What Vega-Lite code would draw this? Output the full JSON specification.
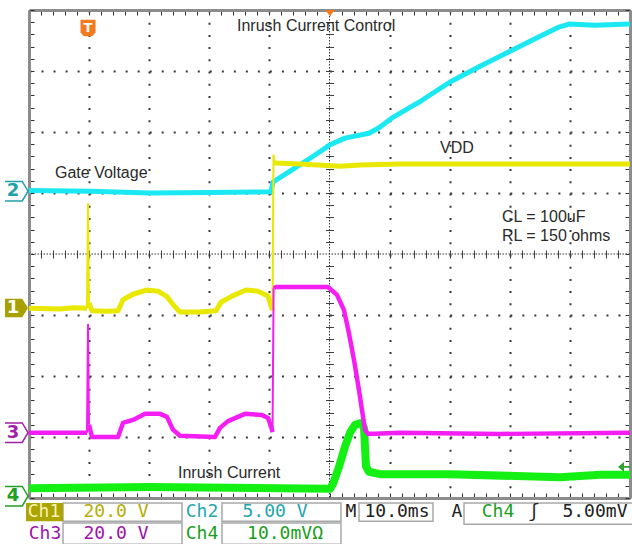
{
  "$schema": "https://vega.github.io/schema/vega-lite/v6.json",
  "width": 601,
  "height": 488,
  "autosize": "none",
  "padding": {"left": 29, "top": 10, "right": 2, "bottom": 46},
  "background": "white",
  "config": {"view": {"stroke": null}},
  "datasets": {
    "ch1": [{"s":"a","x":-50,"y":-0.89},{"s":"a","x":-45,"y":-0.9},{"s":"a","x":-42.5,"y":-0.88},{"s":"a","x":-40.35,"y":-0.89},{"s":"b","x":-40.02,"y":-0.8},{"s":"b","x":-39.52,"y":-0.93},{"s":"b","x":-37,"y":-0.94},{"s":"b","x":-35.19,"y":-0.93},{"s":"b","x":-34.36,"y":-0.75},{"s":"b","x":-32.7,"y":-0.66},{"s":"b","x":-30.37,"y":-0.59},{"s":"b","x":-28.54,"y":-0.61},{"s":"b","x":-27.04,"y":-0.7},{"s":"b","x":-25.87,"y":-0.85},{"s":"b","x":-24.88,"y":-0.95},{"s":"b","x":-21.55,"y":-0.95},{"s":"b","x":-18.89,"y":-0.93},{"s":"b","x":-18.05,"y":-0.79},{"s":"b","x":-16.22,"y":-0.69},{"s":"b","x":-13.89,"y":-0.59},{"s":"b","x":-11.9,"y":-0.61},{"s":"b","x":-10.23,"y":-0.69},{"s":"b","x":-9.73,"y":-0.85},{"s":"b","x":-9.48,"y":-0.92},{"s":"c","x":-9.15,"y":1.5},{"s":"c","x":-8.9,"y":1.49},{"s":"c","x":-4.91,"y":1.475},{"s":"c","x":1.75,"y":1.44},{"s":"c","x":5.07,"y":1.46},{"s":"c","x":11.73,"y":1.475},{"s":"c","x":28.37,"y":1.475},{"s":"c","x":50,"y":1.475}],
    "ch1edges": [{"s":"p","x":-40.35,"y":-0.89},{"s":"p","x":-40.18,"y":0.82},{"s":"p","x":-40.02,"y":-0.8},{"s":"q","x":-9.48,"y":-0.92},{"s":"q","x":-9.32,"y":1.62},{"s":"q","x":-9.15,"y":1.5}],
    "ch2": [{"x":-50,"y":1.04},{"x":-39.85,"y":1.03},{"x":-29.87,"y":1.0},{"x":-19.88,"y":1.01},{"x":-9.73,"y":1.02},{"x":-9.4,"y":1.18},{"x":-6.57,"y":1.36},{"x":-2.91,"y":1.59},{"x":0.08,"y":1.79},{"x":2.58,"y":1.9},{"x":6.57,"y":1.98},{"x":8.24,"y":2.07},{"x":10.4,"y":2.23},{"x":15.39,"y":2.52},{"x":20.05,"y":2.82},{"x":24.88,"y":3.07},{"x":30.37,"y":3.34},{"x":34.86,"y":3.56},{"x":38.19,"y":3.72},{"x":39.85,"y":3.77},{"x":44.18,"y":3.75},{"x":50,"y":3.77}],
    "ch3": [{"s":"a","x":-50,"y":-2.93},{"s":"a","x":-40.35,"y":-2.93},{"s":"b","x":-40.02,"y":-2.8},{"s":"b","x":-39.52,"y":-3.0},{"s":"b","x":-35.19,"y":-3.0},{"s":"b","x":-34.36,"y":-2.77},{"s":"b","x":-32.7,"y":-2.72},{"s":"b","x":-30.7,"y":-2.62},{"s":"b","x":-28.2,"y":-2.62},{"s":"b","x":-27.04,"y":-2.67},{"s":"b","x":-26.04,"y":-2.88},{"s":"b","x":-24.88,"y":-2.98},{"s":"b","x":-19.05,"y":-3.0},{"s":"b","x":-18.22,"y":-2.85},{"s":"b","x":-16.89,"y":-2.74},{"s":"b","x":-14.06,"y":-2.62},{"s":"b","x":-11.23,"y":-2.64},{"s":"b","x":-10.23,"y":-2.69},{"s":"b","x":-9.73,"y":-2.82},{"s":"b","x":-9.48,"y":-2.92},{"s":"c","x":-9.2,"y":-0.56},{"s":"c","x":-8.9,"y":-0.54},{"s":"c","x":-4.91,"y":-0.54},{"s":"c","x":-0.25,"y":-0.54},{"s":"c","x":1.25,"y":-0.67},{"s":"c","x":2.41,"y":-0.92},{"s":"c","x":3.24,"y":-1.3},{"s":"c","x":4.08,"y":-1.74},{"s":"c","x":4.91,"y":-2.23},{"s":"c","x":5.41,"y":-2.56},{"s":"c","x":5.91,"y":-2.88},{"s":"c","x":6.41,"y":-2.95},{"s":"c","x":11.73,"y":-2.93},{"s":"c","x":28.37,"y":-2.95},{"s":"c","x":50,"y":-2.93}],
    "ch3edges": [{"s":"p","x":-40.35,"y":-2.93},{"s":"p","x":-40.18,"y":-1.16},{"s":"p","x":-40.02,"y":-2.8},{"s":"q","x":-9.48,"y":-2.92},{"s":"q","x":-9.3,"y":-0.56},{"s":"q","x":-9.2,"y":-0.56}],
    "ch4": [{"x":-50,"y":-3.84},{"x":-29.87,"y":-3.82},{"x":0.08,"y":-3.85},{"x":0.58,"y":-3.77},{"x":1.58,"y":-3.49},{"x":2.58,"y":-3.16},{"x":3.41,"y":-2.93},{"x":4.24,"y":-2.8},{"x":5.24,"y":-2.77},{"x":5.74,"y":-2.85},{"x":6.07,"y":-3.48},{"x":6.57,"y":-3.57},{"x":8.4,"y":-3.61},{"x":20.05,"y":-3.61},{"x":38.35,"y":-3.66},{"x":45.01,"y":-3.62},{"x":50,"y":-3.62}],
    "labels": [{"t":"Inrush Current Control","x":-15.39,"y":3.74},{"t":"Gate Voltage","x":-45.67,"y":1.33},{"t":"VDD","x":18.39,"y":1.74},{"t":"CL = 100uF","x":28.7,"y":0.61},{"t":"RL = 150 ohms","x":28.7,"y":0.3},{"t":"Inrush Current","x":-25.21,"y":-3.59}],
    "status": [{"t":"Ch1","x":-47.5,"y":-4.23,"k":"inv"},{"t":"20.0 V","x":-35.52,"y":-4.23,"k":"ch1"},{"t":"Ch2","x":-21.21,"y":-4.23,"k":"ch2"},{"t":"5.00 V","x":-9.07,"y":-4.23,"k":"ch2"},{"t":"M","x":3.58,"y":-4.23,"k":"blk"},{"t":"10.0ms","x":11.23,"y":-4.23,"k":"blk"},{"t":"A","x":21.21,"y":-4.23,"k":"blk"},{"t":"Ch4","x":28.04,"y":-4.23,"k":"ch4"},{"t":"ʃ","x":34.03,"y":-4.23,"k":"blk"},{"t":"5.00mV","x":44.17,"y":-4.23,"k":"blk"},{"t":"Ch3","x":-47.34,"y":-4.59,"k":"ch3"},{"t":"20.0 V","x":-35.52,"y":-4.59,"k":"ch3"},{"t":"Ch4","x":-21.21,"y":-4.59,"k":"ch4"},{"t":"10.0mVΩ","x":-7.4,"y":-4.59,"k":"ch4"}],
    "boxes": [{"x":-44.34,"x2":-24.54,"y":-4.08,"y2":-4.38},{"x":-17.89,"x2":1.91,"y":-4.08,"y2":-4.38},{"x":4.91,"x2":17.22,"y":-4.08,"y2":-4.38},{"x":22.38,"x2":50.5,"y":-4.08,"y2":-4.43},{"x":-44.34,"x2":-24.54,"y":-4.41,"y2":-4.76},{"x":-17.89,"x2":1.91,"y":-4.41,"y2":-4.76}],
    "olivebox": [{"x":-50.5,"x2":-44.34,"y":-4.08,"y2":-4.38}],
    "markers": [{"x":-52.08,"y":1.03,"k":"ch2"},{"x":-52.08,"y":-2.93,"k":"ch3"},{"x":-52.08,"y":-3.97,"k":"ch4"}],
    "marker1": [{"x":-52.08,"y":-0.885}],
    "digits": [{"t":"2","x":-52.66,"y":1.03,"k":"ch2"},{"t":"1","x":-52.66,"y":-0.885,"k":"inv1"},{"t":"3","x":-52.66,"y":-2.93,"k":"ch3"},{"t":"4","x":-52.66,"y":-3.97,"k":"ch4"}],
    "trig": [{"x":-40.18,"y":3.705,"t":"T"}],
    "toptri": [{"x":0.08,"y":3.951}],
    "level": [{"x":49.0,"y":-3.49}]
  },
  "layer": [
    {
      "data": {"values": [{}]},
      "mark": {"type": "rule", "color": "#303030", "strokeWidth": 1, "strokeDash": [1.5, 1.5]},
      "encoding": {"x": {"datum": 0, "type": "quantitative", "scale": {"domain": [-50, 50], "nice": false, "zero": false}, "axis": null}}
    },
    {
      "data": {"values": [{}]},
      "mark": {"type": "rule", "color": "#303030", "strokeWidth": 1, "strokeDash": [1.5, 1.5]},
      "encoding": {"y": {"datum": 0, "type": "quantitative", "scale": {"domain": [-4, 4], "nice": false, "zero": false}, "axis": null}}
    },
    {
      "data": {"name": "ch2"},
      "mark": {"type": "line", "color": "#1ae8f2", "strokeWidth": 5, "strokeJoin": "round"},
      "encoding": {
        "x": {"field": "x", "type": "quantitative", "scale": {"domain": [-50, 50], "nice": false, "zero": false},
          "axis": {"orient": "bottom", "values": [-40,-30,-20,-10,10,20,30,40], "grid": true, "gridDash": [2, 10.2], "gridColor": "#383838", "gridWidth": 2, "domain": false, "ticks": false, "labels": false, "title": null}},
        "y": {"field": "y", "type": "quantitative", "scale": {"domain": [-4, 4], "nice": false, "zero": false},
          "axis": {"orient": "left", "values": [-3,-2,-1,1,2,3], "grid": true, "gridDash": [2, 10.02], "gridColor": "#383838", "gridWidth": 2, "domain": false, "ticks": false, "labels": false, "title": null}}
      }
    },
    {
      "data": {"name": "ch1"},
      "mark": {"type": "line", "color": "#e8e800", "strokeWidth": 5, "strokeJoin": "round"},
      "encoding": {
        "x": {"field": "x", "type": "quantitative", "scale": {"domain": [-50, 50], "nice": false, "zero": false},
          "axis": {"orient": "bottom", "offset": -240, "values": [-48,-46,-44,-42,-40,-38,-36,-34,-32,-30,-28,-26,-24,-22,-20,-18,-16,-14,-12,-10,-8,-6,-4,-2,2,4,6,8,10,12,14,16,18,20,22,24,26,28,30,32,34,36,38,40,42,44,46,48], "grid": false, "domain": false, "ticks": true, "tickSize": -8, "tickColor": "#404040", "tickWidth": 1, "labels": false, "title": null}},
        "y": {"field": "y", "type": "quantitative", "scale": {"domain": [-4, 4], "nice": false, "zero": false},
          "axis": {"orient": "left", "offset": -296.5, "values": [-3.8,-3.6,-3.4,-3.2,-3,-2.8,-2.6,-2.4,-2.2,-2,-1.8,-1.6,-1.4,-1.2,-1,-0.8,-0.6,-0.4,-0.2,0.2,0.4,0.6,0.8,1,1.2,1.4,1.6,1.8,2,2.2,2.4,2.6,2.8,3,3.2,3.4,3.6,3.8], "grid": false, "domain": false, "ticks": true, "tickSize": -8, "tickColor": "#404040", "tickWidth": 1, "labels": false, "title": null}},
        "detail": {"field": "s"}
      }
    },
    {
      "data": {"name": "ch1edges"},
      "mark": {"type": "line", "color": "#e8e800", "strokeWidth": 2, "strokeJoin": "round"},
      "encoding": {
        "x": {"field": "x", "type": "quantitative", "axis": null},
        "y": {"field": "y", "type": "quantitative", "axis": null},
        "detail": {"field": "s"}
      }
    },
    {
      "data": {"name": "ch4"},
      "mark": {"type": "line", "color": "#14f014", "strokeWidth": 8, "strokeJoin": "round"},
      "encoding": {
        "x": {"field": "x", "type": "quantitative", "scale": {"domain": [-50, 50], "nice": false, "zero": false},
          "axis": {"orient": "top", "values": [-50,-48,-46,-44,-42,-40,-38,-36,-34,-32,-30,-28,-26,-24,-22,-20,-18,-16,-14,-12,-10,-8,-6,-4,-2,0,2,4,6,8,10,12,14,16,18,20,22,24,26,28,30,32,34,36,38,40,42,44,46,48,50], "grid": false, "domain": true, "domainColor": "#8c8c8c", "domainWidth": 3, "ticks": true, "tickSize": -5, "tickColor": "#303030", "tickWidth": 1, "labels": false, "title": null}},
        "y": {"field": "y", "type": "quantitative", "scale": {"domain": [-4, 4], "nice": false, "zero": false},
          "axis": {"orient": "right", "values": [-4,-3.8,-3.6,-3.4,-3.2,-3,-2.8,-2.6,-2.4,-2.2,-2,-1.8,-1.6,-1.4,-1.2,-1,-0.8,-0.6,-0.4,-0.2,0,0.2,0.4,0.6,0.8,1,1.2,1.4,1.6,1.8,2,2.2,2.4,2.6,2.8,3,3.2,3.4,3.6,3.8,4], "grid": false, "domain": true, "domainColor": "#8c8c8c", "domainWidth": 3, "ticks": true, "tickSize": -5, "tickColor": "#303030", "tickWidth": 1, "labels": false, "title": null}}
      }
    },
    {
      "data": {"name": "ch3"},
      "mark": {"type": "line", "color": "#f41ef4", "strokeWidth": 4.5, "strokeJoin": "round"},
      "encoding": {
        "x": {"field": "x", "type": "quantitative", "scale": {"domain": [-50, 50], "nice": false, "zero": false},
          "axis": {"orient": "bottom", "values": [-50,-48,-46,-44,-42,-40,-38,-36,-34,-32,-30,-28,-26,-24,-22,-20,-18,-16,-14,-12,-10,-8,-6,-4,-2,0,2,4,6,8,10,12,14,16,18,20,22,24,26,28,30,32,34,36,38,40,42,44,46,48,50], "grid": false, "domain": true, "domainColor": "#8c8c8c", "domainWidth": 3, "ticks": true, "tickSize": -5, "tickColor": "#303030", "tickWidth": 1, "labels": false, "title": null}},
        "y": {"field": "y", "type": "quantitative", "scale": {"domain": [-4, 4], "nice": false, "zero": false},
          "axis": {"orient": "left", "values": [-4,-3.8,-3.6,-3.4,-3.2,-3,-2.8,-2.6,-2.4,-2.2,-2,-1.8,-1.6,-1.4,-1.2,-1,-0.8,-0.6,-0.4,-0.2,0,0.2,0.4,0.6,0.8,1,1.2,1.4,1.6,1.8,2,2.2,2.4,2.6,2.8,3,3.2,3.4,3.6,3.8,4], "grid": false, "domain": true, "domainColor": "#8c8c8c", "domainWidth": 3, "ticks": true, "tickSize": -5, "tickColor": "#303030", "tickWidth": 1, "labels": false, "title": null}},
        "detail": {"field": "s"}
      }
    },
    {
      "data": {"name": "ch3edges"},
      "mark": {"type": "line", "color": "#f41ef4", "strokeWidth": 2, "strokeJoin": "round"},
      "encoding": {
        "x": {"field": "x", "type": "quantitative", "axis": null},
        "y": {"field": "y", "type": "quantitative", "axis": null},
        "detail": {"field": "s"}
      }
    },
    {
      "data": {"name": "labels"},
      "mark": {"type": "text", "font": "Liberation Sans", "fontSize": 16, "align": "left", "baseline": "middle", "color": "#2a2a2a"},
      "encoding": {
        "x": {"field": "x", "type": "quantitative", "axis": null},
        "y": {"field": "y", "type": "quantitative", "axis": null},
        "text": {"field": "t"}
      }
    },
    {
      "data": {"name": "trig"},
      "mark": {"type": "point", "shape": "M-1,-1.1 L1,-1.1 L1,0.6 L0.55,1.1 L-0.55,1.1 L-1,0.6 Z", "filled": true, "size": 225, "color": "#f47a20", "opacity": 1},
      "encoding": {
        "x": {"field": "x", "type": "quantitative", "axis": null},
        "y": {"field": "y", "type": "quantitative", "axis": null}
      }
    },
    {
      "data": {"name": "trig"},
      "mark": {"type": "text", "font": "DejaVu Sans", "fontWeight": "bold", "fontSize": 13, "align": "center", "baseline": "middle", "color": "white"},
      "encoding": {
        "x": {"field": "x", "type": "quantitative", "axis": null},
        "y": {"field": "y", "type": "quantitative", "axis": null},
        "text": {"field": "t"}
      }
    },
    {
      "data": {"name": "toptri"},
      "mark": {"type": "point", "shape": "M-1,-0.6 L1,-0.6 L0,0.6 Z", "filled": true, "size": 100, "color": "#f47a20", "opacity": 1},
      "encoding": {
        "x": {"field": "x", "type": "quantitative", "axis": null},
        "y": {"field": "y", "type": "quantitative", "axis": null}
      }
    },
    {
      "data": {"name": "level"},
      "mark": {"type": "point", "shape": "M-1,0 L0,-0.8 L0,0.8 Z M0,-0.15 L1,-0.15 L1,0.15 L0,0.15 Z", "filled": true, "size": 144, "color": "#30a030", "opacity": 1},
      "encoding": {
        "x": {"field": "x", "type": "quantitative", "axis": null},
        "y": {"field": "y", "type": "quantitative", "axis": null}
      }
    },
    {
      "data": {"name": "markers"},
      "mark": {"type": "point", "shape": "M-1,-0.85 L0.5,-0.85 L1,0 L0.5,0.85 L-1,0.85", "filled": false, "size": 529, "strokeWidth": 1.5, "opacity": 1},
      "encoding": {
        "x": {"field": "x", "type": "quantitative", "axis": null},
        "y": {"field": "y", "type": "quantitative", "axis": null},
        "color": {"field": "k", "type": "nominal", "scale": {"domain": ["ch2","ch3","ch4"], "range": ["#20a0a8","#a020a8","#20a020"]}, "legend": null}
      }
    },
    {
      "data": {"name": "marker1"},
      "mark": {"type": "point", "shape": "M-1,-0.8 L0.5,-0.8 L1,0 L0.5,0.8 L-1,0.8 Z", "filled": true, "size": 529, "color": "#a8a000", "opacity": 1},
      "encoding": {
        "x": {"field": "x", "type": "quantitative", "axis": null},
        "y": {"field": "y", "type": "quantitative", "axis": null}
      }
    },
    {
      "data": {"name": "digits"},
      "mark": {"type": "text", "font": "DejaVu Sans", "fontWeight": "bold", "fontSize": 18, "align": "center", "baseline": "middle"},
      "encoding": {
        "x": {"field": "x", "type": "quantitative", "axis": null},
        "y": {"field": "y", "type": "quantitative", "axis": null},
        "text": {"field": "t"},
        "color": {"field": "k", "type": "nominal", "scale": {"domain": ["ch2","inv1","ch3","ch4"], "range": ["#20a0a8","#ffffff","#a020a8","#20a020"]}, "legend": null}
      }
    },
    {
      "data": {"name": "boxes"},
      "mark": {"type": "rect", "fill": "white", "stroke": "#a8a8a8", "strokeWidth": 1.5},
      "encoding": {
        "x": {"field": "x", "type": "quantitative", "axis": null},
        "x2": {"field": "x2"},
        "y": {"field": "y", "type": "quantitative", "axis": null},
        "y2": {"field": "y2"}
      }
    },
    {
      "data": {"name": "olivebox"},
      "mark": {"type": "rect", "fill": "#aca400"},
      "encoding": {
        "x": {"field": "x", "type": "quantitative", "axis": null},
        "x2": {"field": "x2"},
        "y": {"field": "y", "type": "quantitative", "axis": null},
        "y2": {"field": "y2"}
      }
    },
    {
      "data": {"name": "status"},
      "mark": {"type": "text", "font": "DejaVu Sans Mono", "fontSize": 18, "align": "center", "baseline": "middle"},
      "encoding": {
        "x": {"field": "x", "type": "quantitative", "axis": null},
        "y": {"field": "y", "type": "quantitative", "axis": null},
        "text": {"field": "t"},
        "color": {"field": "k", "type": "nominal", "scale": {"domain": ["inv","ch1","ch2","ch3","ch4","blk"], "range": ["#f6f2b8","#b5ad00","#1fa6ac","#a010a8","#1a9e1a","#202020"]}, "legend": null}
      }
    }
  ],
  "resolve": {"axis": {"x": "independent", "y": "independent"}, "scale": {"color": "independent"}}
}
